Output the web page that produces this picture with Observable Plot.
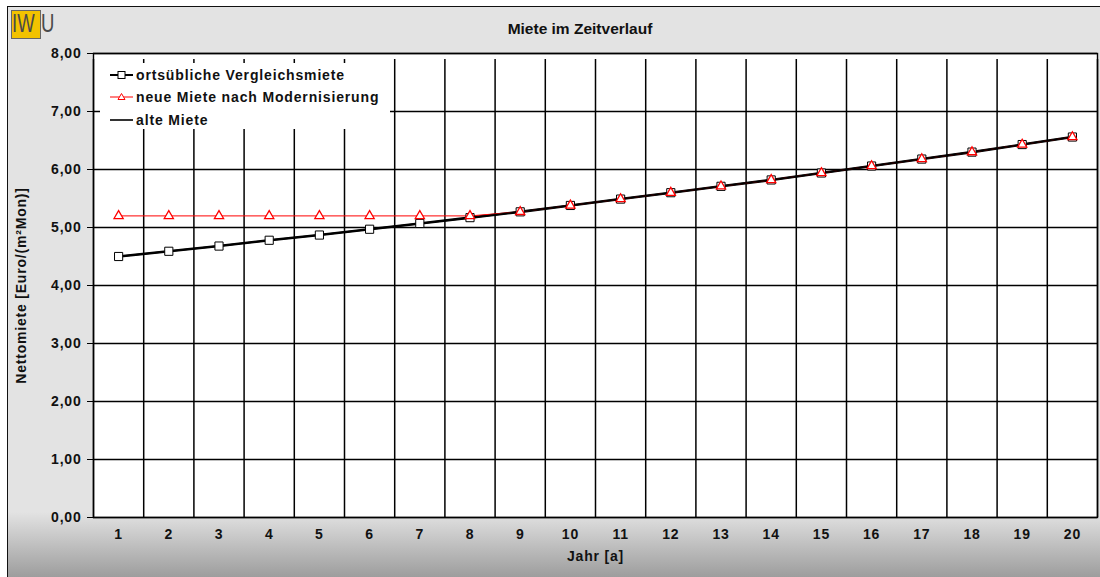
<!DOCTYPE html>
<html>
<head>
<meta charset="utf-8">
<script src="https://cdn.jsdelivr.net/npm/d3@7"></script>
<script src="https://cdn.jsdelivr.net/npm/@observablehq/plot@0.6"></script>
<style>
  html, body { margin: 0; padding: 0; background: white; }
  #wrap { position: relative; width: 1100px; height: 577px; overflow: hidden; font-family: "Liberation Sans", Arial, sans-serif; }
  #bg { position: absolute; left: 7px; top: 6px; right: 0; bottom: 0;
        border-top: 1.5px solid #111; border-left: 1.5px solid #111;
        background: linear-gradient(to bottom, #e3e3e3 0px, #e3e3e3 505px, #9c9c9c 571px); }
  #title { position: absolute; left: 0; width: 1160px; top: 20px; text-align: center; font-weight: bold; font-size: 15.5px; color: #111; }
  #logo { position: absolute; left: 11px; top: 10px; height: 28px; }
  #logo .box { position: absolute; left: 0; top: 0; width: 28px; height: 27px; background: #f2c200; border: 1px solid #666; }
  #logo .t { position: absolute; top: -1px; font-size: 25px; color: #4a4a4a; transform-origin: left top; transform: scaleX(0.74); white-space: nowrap; }
  #chart { position: absolute; left: 0; top: 0; }
  #legend { position: absolute; left: 100px; top: 63px; width: 290px; height: 66px; background: white; }
  #legend .row { position: absolute; left: 10px; height: 20px; display: flex; align-items: center; font-weight: bold; font-size: 14px; letter-spacing: 0.85px; color: #111; }
  #legend svg { margin-right: 2px; }
</style>
</head>
<body>
<div id="wrap">
  <div id="bg"></div>
  <div id="logo"><div class="box"></div><div class="t" style="left:1px">IW</div><div class="t" style="left:30px">U</div></div>
  <div id="title">Miete im Zeitverlauf</div>
  <div id="chart"></div>
  <div id="legend"></div>
</div>
<script>
const years = [1, 2, 3, 4, 5, 6, 7, 8, 9, 10, 11, 12, 13, 14, 15, 16, 17, 18, 19, 20];
const vergleichsmiete = [4.50, 4.59, 4.68, 4.78, 4.87, 4.97, 5.07, 5.17, 5.27, 5.38, 5.49, 5.60, 5.71, 5.82, 5.94, 6.06, 6.18, 6.30, 6.43, 6.56];
const neueMiete = [5.20, 5.20, 5.20, 5.20, 5.20, 5.20, 5.20, 5.20, 5.27, 5.38, 5.49, 5.60, 5.71, 5.82, 5.94, 6.06, 6.18, 6.30, 6.43, 6.56];
const alteMiete = [4.50, 4.59, 4.68, 4.78, 4.87, 4.97, 5.07, 5.17, 5.27, 5.38, 5.49, 5.60, 5.71, 5.82, 5.94, 6.06, 6.18, 6.30, 6.43, 6.56];
const yTicks = [0, 1, 2, 3, 4, 5, 6, 7, 8];
const xBoundaries = [0.5, 1.5, 2.5, 3.5, 4.5, 5.5, 6.5, 7.5, 8.5, 9.5, 10.5, 11.5, 12.5, 13.5, 14.5, 15.5, 16.5, 17.5, 18.5, 19.5, 20.5];
const seriesNames = ["ortsübliche Vergleichsmiete", "neue Miete nach Modernisierung", "alte Miete"];
const xLabel = "Jahr [a]";
const yLabel = "Nettomiete [Euro/(m²Mon)]";

const rows = years.map((year, i) => ({year, vergleich: vergleichsmiete[i], neu: neueMiete[i], alt: alteMiete[i]}));

const chart = Plot.plot({
  width: 1100,
  height: 577,
  marginLeft: 93,
  marginRight: 3,
  marginTop: 53,
  marginBottom: 60,
  x: {domain: [0.5, 20.5]},
  y: {domain: [0, 8]},
  style: {background: "transparent", fontFamily: "'Liberation Sans', Arial, sans-serif", fontSize: "14px", fontWeight: "bold", letterSpacing: "0.8px", color: "#111"},
  marks: [
    Plot.frame({fill: "white"}),
    Plot.ruleY(yTicks, {stroke: "#000", strokeWidth: 1.4}),
    Plot.ruleX(xBoundaries, {y1: 0, y2: 8, stroke: "#000", strokeWidth: 1.5, insetBottom: -6}),
    Plot.axisY(yTicks, {tickSize: 6, tickPadding: 6, tickFormat: d => d.toFixed(2).replace(".", ","), label: null, stroke: "#000"}),
    Plot.axisX(years, {tickSize: 0, tickPadding: 12, label: null}),
    Plot.text([yLabel], {frameAnchor: "left", textAnchor: "middle", rotate: -90, dx: -72, fill: "#111"}),
    Plot.text([xLabel], {frameAnchor: "bottom", dy: 43, fill: "#111"}),
    Plot.frame({stroke: "#000", strokeWidth: 1.4}),
    Plot.line(rows, {x: "year", y: "vergleich", stroke: "#000", strokeWidth: 2.6}),
    Plot.line(rows, {x: "year", y: "neu", stroke: "#ff0000", strokeWidth: 1}),
    Plot.line(rows, {x: "year", y: "alt", stroke: "#000", strokeWidth: 1.5}),
    Plot.dot(rows, {x: "year", y: "vergleich", symbol: "square", r: 4.6, fill: "white", stroke: "#000", strokeWidth: 1}),
    Plot.dot(rows, {x: "year", y: "neu", symbol: "triangle", r: 3.4, fill: "white", stroke: "#ff0000", strokeWidth: 1.3})
  ]
});
document.getElementById("chart").appendChild(chart);

// legend
const swatches = [
  `<svg width="24" height="12"><line x1="0" y1="6" x2="23" y2="6" stroke="#000" stroke-width="2"/><rect x="8" y="2.5" width="7" height="7" fill="white" stroke="#000" stroke-width="1"/></svg>`,
  `<svg width="24" height="12"><line x1="0" y1="6" x2="23" y2="6" stroke="#ff0000" stroke-width="1"/><path d="M11.5,2.5 L15,8.5 L8,8.5 Z" fill="white" stroke="#ff0000" stroke-width="1"/></svg>`,
  `<svg width="24" height="12"><line x1="0" y1="6" x2="23" y2="6" stroke="#000" stroke-width="1.6"/></svg>`
];
const rowTops = [2, 24, 47];
const legend = document.getElementById("legend");
seriesNames.forEach((name, i) => {
  const r = document.createElement("div");
  r.className = "row";
  r.style.top = rowTops[i] + "px";
  r.innerHTML = swatches[i] + `<span>${name}</span>`;
  legend.appendChild(r);
});
</script>
</body>
</html>
